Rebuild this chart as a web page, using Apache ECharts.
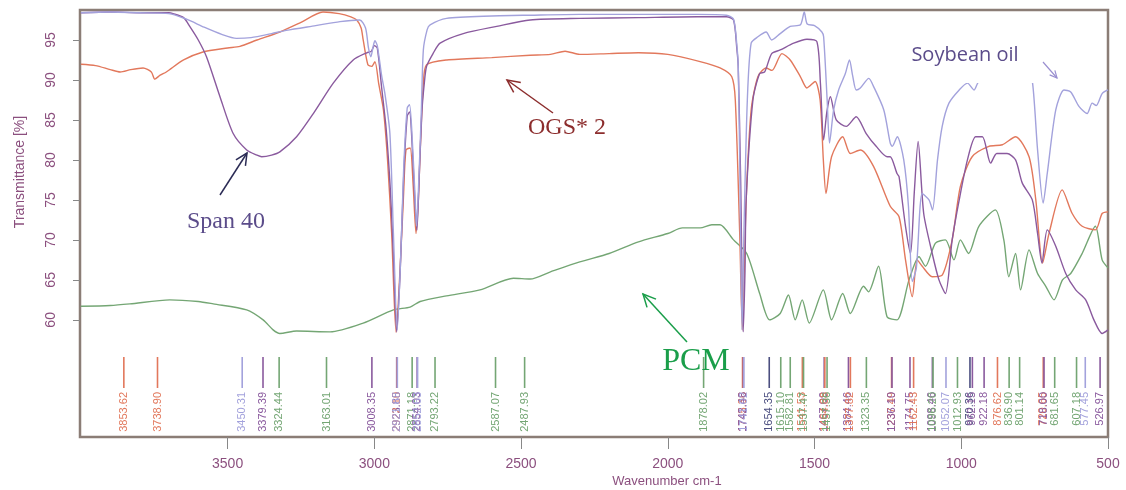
<!DOCTYPE html>
<html><head><meta charset="utf-8">
<script src="https://cdn.jsdelivr.net/npm/echarts@6/dist/echarts.min.js"></script>
<style>html,body{margin:0;padding:0;background:#fff}#c{width:1126px;height:490px}</style>
</head><body><div id="c"></div>
<script>
// ---- data (wavenumber cm-1, transmittance %) ----
const soybeanOil = [[4000,98.4],[3900,98.5],[3800,98.4],[3700,98.3],[3640,97.6],[3580,96.6],[3520,95.7],[3470,95.2],[3420,95.3],[3350,95.8],[3300,96.2],[3200,96.8],[3117,97.3],[3050,97.5],[3030,96.5],[3020,94.0],[3012,92.9],[3004,94.2],[2998,94.9],[2990,94.3],[2975,90.5],[2964,88.3],[2947,83.3],[2935,70.8],[2922,58.75],[2910,68],[2900,79],[2888,86.5],[2880,86.9],[2870,82],[2862,76],[2856,71.7],[2848,78],[2840,86],[2833,93.75],[2820,96.3],[2810,96.9],[2754,97.7],[2600,98.0],[2469,98.1],[2300,98.2],[2100,98.2],[1900,98.2],[1800,98.1],[1776,97.6],[1765,94.5],[1760,91.7],[1755,80],[1747,58.75],[1740,72],[1729,87.5],[1716,94.6],[1693,95.4],[1665,96.0],[1646,95.0],[1617,95.8],[1583,96.7],[1548,96.9],[1535,98.5],[1525,97.0],[1500,96.8],[1475,96.0],[1469,95.4],[1457,87.5],[1449,82.1],[1435,86.25],[1418,88.75],[1395,90.8],[1381,92.5],[1370,90.5],[1358,88.75],[1344,89.0],[1315,90.2],[1299,89.2],[1264,86.25],[1242,82.1],[1235,81.7],[1218,82.9],[1196,80],[1180,74.2],[1167,64.8],[1153,66.5],[1133,75.8],[1110,75],[1098,73.75],[1081,80],[1065,84.2],[1042,87.1],[1007,88.75],[979,89.6],[956,88.75],[944,89.6],[920,90.5],[880,91],[840,91],[800,90.5],[770,90.0],[757,89.6],[740,81.25],[721,74.6],[707,78.3],[678,86.25],[650,88.75],[627,88.5],[599,86.7],[571,85.8],[554,87.1],[540,86.8],[520,88.3],[500,88.75]];
const span40 = [[4000,98.4],[3900,98.5],[3800,98.4],[3700,98.4],[3686,98.3],[3650,97.8],[3629,96.7],[3600,95],[3572,92.9],[3526,87.9],[3481,83.3],[3435,81.25],[3400,80.6],[3384,80.4],[3350,80.6],[3322,81.0],[3265,82.9],[3208,85.8],[3140,89.6],[3072,92.5],[3026,93.4],[3010,93.6],[3000,94.3],[2990,94.0],[2975,89],[2960,84],[2945,76],[2935,68],[2924,58.5],[2912,66],[2900,78],[2888,85.5],[2880,86.0],[2870,81],[2862,75],[2855,71.2],[2848,77],[2838,86],[2830,89.5],[2822,91.7],[2800,93.3],[2776,94.6],[2697,95.8],[2583,96.7],[2469,97.5],[2300,97.7],[2100,97.8],[1900,97.9],[1800,97.9],[1776,97.5],[1765,94],[1760,91.7],[1752,78],[1743,58.5],[1737,66],[1733,75],[1710,87.5],[1687,90.8],[1670,91.0],[1646,93.3],[1617,93.75],[1571,94.6],[1526,95.1],[1492,94.8],[1480,89.6],[1469,82.5],[1458,86],[1446,87.9],[1426,85],[1392,84.2],[1358,85.4],[1324,83.3],[1290,81.7],[1253,80.4],[1242,80.4],[1219,78.3],[1212,77.9],[1190,71.7],[1173,68.3],[1160,76],[1147,82.3],[1128,73.3],[1099,68.3],[1076,65],[1054,63.3],[1031,70],[1007,75],[979,80],[951,82.9],[928,82.9],[900,79.6],[879,80.8],[844,80.8],[815,80],[792,77.1],[758,75],[740,70.8],[725,67.1],[707,71.25],[678,69.2],[644,65.8],[610,63.75],[576,62.5],[548,60],[520,58.3],[500,58.75]];
const ogs2 = [[4000,91.96],[3950,91.8],[3900,91.3],[3866,91.0],[3830,91.3],[3788,91.5],[3760,91.0],[3748,90.1],[3730,90.6],[3709,91.0],[3650,92.5],[3584,93.5],[3500,94.0],[3458,94.2],[3400,95.0],[3322,96.0],[3250,97.2],[3175,98.5],[3120,98.3],[3080,97.9],[3060,97.5],[3045,96.5],[3038,95],[3022,91.9],[3009,91.7],[2998,92.3],[2985,89.5],[2969,86.25],[2955,80],[2941,70.8],[2926,58.4],[2912,66.6],[2900,76],[2892,81.25],[2878,81.5],[2868,77],[2858,70.8],[2850,75],[2844,81],[2833,89.6],[2822,91.9],[2753,92.5],[2600,92.8],[2469,93.1],[2400,93.2],[2350,93.6],[2300,93.2],[2200,93.3],[2100,93.4],[2000,93.2],[1890,92.3],[1822,91.5],[1782,90.4],[1770,87.5],[1755,70.8],[1746,58.75],[1733,75],[1716,86.25],[1693,90.4],[1665,91.5],[1645,91.2],[1611,93.3],[1583,92.5],[1548,90.4],[1526,89.0],[1498,89.8],[1481,87.5],[1470,80],[1461,75.8],[1442,80.4],[1404,82.9],[1378,80.8],[1344,81.25],[1299,79.2],[1242,74.2],[1212,72.9],[1190,67.5],[1167,62.9],[1150,67.5],[1133,66.7],[1099,65.4],[1065,65.6],[1031,70],[1003,76.7],[963,80.4],[906,81.7],[860,81.9],[815,82.9],[769,80.4],[746,75],[723,67.1],[701,70.8],[656,76.25],[622,73.3],[588,71.7],[543,71.25],[520,73.3],[500,73.5]];
const pcm = [[4000,61.7],[3900,61.8],[3833,62],[3697,62.5],[3600,62.3],[3549,62],[3435,61.25],[3379,60],[3345,58.75],[3322,58.3],[3265,58.6],[3151,58.5],[3038,59.6],[2935,61.25],[2878,61.6],[2844,62.3],[2754,63],[2640,63.75],[2526,65.2],[2469,65.1],[2400,66.0],[2300,67.25],[2200,68.3],[2100,69.75],[2000,70.8],[1950,71.5],[1890,71.5],[1850,71.9],[1822,71.9],[1776,70],[1731,68.3],[1687,63.3],[1653,60],[1617,60.8],[1589,63.1],[1566,60],[1542,62.5],[1518,59.6],[1470,63.75],[1442,60],[1404,63.3],[1378,60.8],[1333,64.2],[1316,63.5],[1282,66.7],[1253,60.4],[1219,60],[1178,65],[1144,67.9],[1122,66.7],[1088,69.6],[1054,70],[1025,67.5],[1003,70],[975,68.3],[940,71.7],[884,73.75],[855,70],[838,65.4],[815,68.3],[798,63.75],[769,68.75],[740,65.8],[712,64.2],[684,62.5],[655,65],[627,65.8],[588,68.3],[543,71.7],[520,67.5],[500,66.5]];

const xTicks = [3500,3000,2500,2000,1500,1000,500];
const yTicks = [60,65,70,75,80,85,90,95];

// peak picks: wavenumber, label text, colour key (0 soy,1 span,2 ogs,3 pcm,4 navy)
const peakWave = [3853.62,3738.90,3450.31,3379.39,3324.44,3163.01,3008.35,2923.85,2922.10,2921.68,2871.18,2854.03,2852.63,2793.22,2587.07,2487.93,1878.02,1745.36,1742.48,1741.02,1654.35,1615.10,1582.81,1541.53,1537.47,1467.09,1464.88,1457.36,1384.46,1377.82,1323.35,1237.49,1236.10,1174.75,1162.43,1098.46,1096.20,1052.07,1012.93,970.36,962.15,922.18,876.62,836.90,801.14,720.65,718.00,681.65,607.18,577.45,526.97];
const peakText = ['3853.62','3738.90','3450.31','3379.39','3324.44','3163.01','3008.35','2923.85','2922.10','2921.68','2871.18','2854.03','2852.63','2793.22','2587.07','2487.93','1878.02','1745.36','1742.48','1741.02','1654.35','1615.10','1582.81','1541.53','1537.47','1467.09','1464.88','1457.36','1384.46','1377.82','1323.35','1237.49','1236.10','1174.75','1162.43','1098.46','1096.20','1052.07','1012.93','970.36','962.15','922.18','876.62','836.90','801.14','720.65','718.00','681.65','607.18','577.45','526.97'];
const peakSeries = [2,2,0,1,3,3,1,1,2,0,3,1,0,3,3,3,3,2,1,0,4,3,3,2,3,1,2,3,1,2,3,2,1,1,2,1,3,0,3,4,1,1,2,3,3,2,1,3,3,0,1];

// ---- styles ----
const colors = ['#a3a2dc','#8a5a9e','#e2785c','#74a674','#4c4f80'];
const textCol = '#8b4f7e';
const chart = echarts.init(document.getElementById('c'), null, {renderer:'canvas'});

function arrow(x1,y1,x2,y2,color,head,w){
  const a = Math.atan2(y2-y1,x2-x1), s = 0.45;
  const h1 = [x2 - head*Math.cos(a-s), y2 - head*Math.sin(a-s)];
  const h2 = [x2 - head*Math.cos(a+s), y2 - head*Math.sin(a+s)];
  return [
    {type:'line', z:100, shape:{x1,y1,x2,y2}, style:{stroke:color, lineWidth:w}},
    {type:'polyline', z:100, shape:{points:[h1,[x2,y2],h2]}, style:{stroke:color, lineWidth:w, fill:null}}
  ];
}

const lineSeries = (name, data, color) => ({
  name, type:'line', data, showSymbol:false, smooth:0.25, clip:true,
  lineStyle:{color, width:1.4}, itemStyle:{color}, z:3
});

const option = {
  animation:false,
  backgroundColor:'#fff',
  grid:{left:80, right:18, top:10, bottom:53, show:true, borderColor:'#8b7d76', borderWidth:2.5, backgroundColor:'transparent'},
  xAxis:{
    type:'value', inverse:true, min:500, max:4003,
    axisLine:{show:false},
    splitLine:{show:false},
    axisTick:{show:true, length:12, customValues:xTicks, lineStyle:{color:'#888', width:1}},
    axisLabel:{customValues:xTicks, margin:20, color:textCol, fontSize:14, fontFamily:'Liberation Sans', formatter:v=>String(v)}
  },
  yAxis:{
    type:'value', min:45.35, max:98.75,
    axisLine:{show:false},
    splitLine:{show:false},
    axisTick:{show:true, length:7, customValues:yTicks, lineStyle:{color:'#888', width:1}},
    axisLabel:{customValues:yTicks, rotate:90, margin:22, color:textCol, fontSize:14, fontFamily:'Liberation Sans', formatter:v=>String(v)}
  },
  series:[
    lineSeries('PCM', pcm, colors[3]),
    lineSeries('OGS* 2', ogs2, colors[2]),
    lineSeries('Span 40', span40, colors[1]),
    lineSeries('Soybean oil', soybeanOil, colors[0]),
    {
      type:'custom', name:'peaks', z:4,
      data: peakWave.map((w,i)=>[w,i]),
      renderItem:(params, api)=>{
        const w = api.value(0), i = api.value(1);
        const x = api.coord([w, 60])[0];
        const cs = params.coordSys, bottom = cs.y + cs.height;
        const c = colors[peakSeries[i]];
        return {type:'group', children:[
          {type:'line', shape:{x1:x, y1:bottom-80, x2:x, y2:bottom-49}, style:{stroke:c, lineWidth:1.6}},
          {type:'text', x:x, y:bottom-45, rotation:Math.PI/2,
           style:{text:peakText[i], fill:c, font:'11px "Liberation Sans"', align:'right', verticalAlign:'middle'}}
        ]};
      }
    }
  ],
  graphic:[
    {type:'rect', z:90, shape:{x:903, y:26, width:133, height:57}, style:{fill:'#fff'}},
    {type:'text', z:100, x:965, y:55, style:{text:'Soybean oil', font:'20px "Open Sans"', fill:'#5b4c8a', align:'center', verticalAlign:'middle'}},
    ...arrow(1043,62,1057,78,'#9a8fd0',8,1.2),
    {type:'text', z:100, x:226, y:222, style:{text:'Span 40', font:'24px "Liberation Serif"', fill:'#5b4c8a', align:'center', verticalAlign:'middle'}},
    ...arrow(220,195,247,153,'#2b2b55',13,1.5),
    {type:'text', z:100, x:567, y:128, style:{text:'OGS* 2', font:'24px "Liberation Serif"', fill:'#8c2d2d', align:'center', verticalAlign:'middle'}},
    ...arrow(553,113,507,80,'#8c2d2d',14,1.5),
    {type:'text', z:100, x:696, y:362, style:{text:'PCM', font:'32px "Liberation Serif"', fill:'#1a9e4a', align:'center', verticalAlign:'middle'}},
    ...arrow(687,342,643,294,'#1a9e4a',14,1.5),
    {type:'text', z:100, x:20, y:172, rotation:Math.PI/2, style:{text:'Transmittance [%]', font:'14px "Liberation Sans"', fill:textCol, align:'center', verticalAlign:'middle'}},
    {type:'text', z:100, x:667, y:481, style:{text:'Wavenumber cm-1', font:'13px "Liberation Sans"', fill:textCol, align:'center', verticalAlign:'middle'}}
  ]
};
chart.setOption(option);
</script>
</body></html>
